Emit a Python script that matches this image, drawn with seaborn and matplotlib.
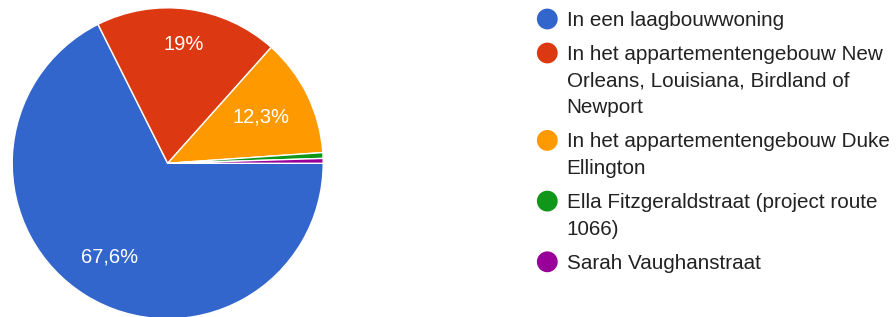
import numpy as np
import matplotlib
matplotlib.use("Agg")
import matplotlib.pyplot as plt
import seaborn as sns

categories = [
    "In een laagbouwwoning",
    "In het appartementengebouw New Orleans, Louisiana, Birdland of Newport",
    "In het appartementengebouw Duke Ellington",
    "Ella Fitzgeraldstraat (project route 1066)",
    "Sarah Vaughanstraat",
]
values = [67.6, 19.0, 12.3, 0.6, 0.5]
pct_labels = ["67,6%", "19%", "12,3%", "", ""]
colors = ["#3366CC", "#DC3912", "#FF9900", "#109618", "#990099"]

sns.set_theme(style="white")
plt.rcParams['font.family'] = ['Liberation Sans', 'DejaVu Sans']

W, H, DPI = 896, 317, 100
fig = plt.figure(figsize=(W / DPI, H / DPI), dpi=DPI)

# pie axes
cx, cy, r = 167.7, 163.3, 155.5
ax = fig.add_axes([(cx - r) / W, (H - cy - r) / H, 2 * r / W, 2 * r / H])
palette = sns.color_palette(colors)
wedges, _ = ax.pie(values, colors=palette, startangle=0, counterclock=False,
                   radius=1.0, wedgeprops=dict(edgecolor="white", linewidth=1.0))
ax.set_xlim(-1, 1)
ax.set_ylim(-1, 1)
ax.set_aspect("equal")
ax.axis("off")

pie_fs = 14.5
label_r = [0.71, 0.77, 0.67, 0.7, 0.7]
for w, lab, lr in zip(wedges, pct_labels, label_r):
    if not lab:
        continue
    ang = np.deg2rad((w.theta1 + w.theta2) / 2)
    ax.text(lr * np.cos(ang), lr * np.sin(ang), lab, color="white",
            fontsize=pie_fs, ha="center", va="center")

# legend overlay in pixel coordinates
lax = fig.add_axes([0, 0, 1, 1])
lax.set_xlim(0, W)
lax.set_ylim(H, 0)
lax.axis("off")

renderer = fig.canvas.get_renderer()
fs = 14.9
txt_color = "#222222"
max_w = 330


def text_width(s):
    t = lax.text(0, 0, s, fontsize=fs)
    wpx = t.get_window_extent(renderer=renderer).width
    t.remove()
    return wpx


def wrap(s):
    words = s.split(" ")
    lines, cur = [], ""
    for wd in words:
        cand = wd if not cur else cur + " " + wd
        if text_width(cand) <= max_w or not cur:
            cur = cand
        else:
            lines.append(cur)
            cur = wd
    lines.append(cur)
    return lines


y = 19.0
line_h = 26.7
gap = 34.0
for cat, col in zip(categories, colors):
    lines = wrap(cat)
    lax.scatter([547.3], [y], s=225, color=col, edgecolors="none")
    for i, ln in enumerate(lines):
        lax.text(566.7, y + i * line_h + 7.0, ln, fontsize=fs, color=txt_color,
                 ha="left", va="baseline")
    y = y + (len(lines) - 1) * line_h + gap

fig.savefig("out.png", dpi=DPI)
